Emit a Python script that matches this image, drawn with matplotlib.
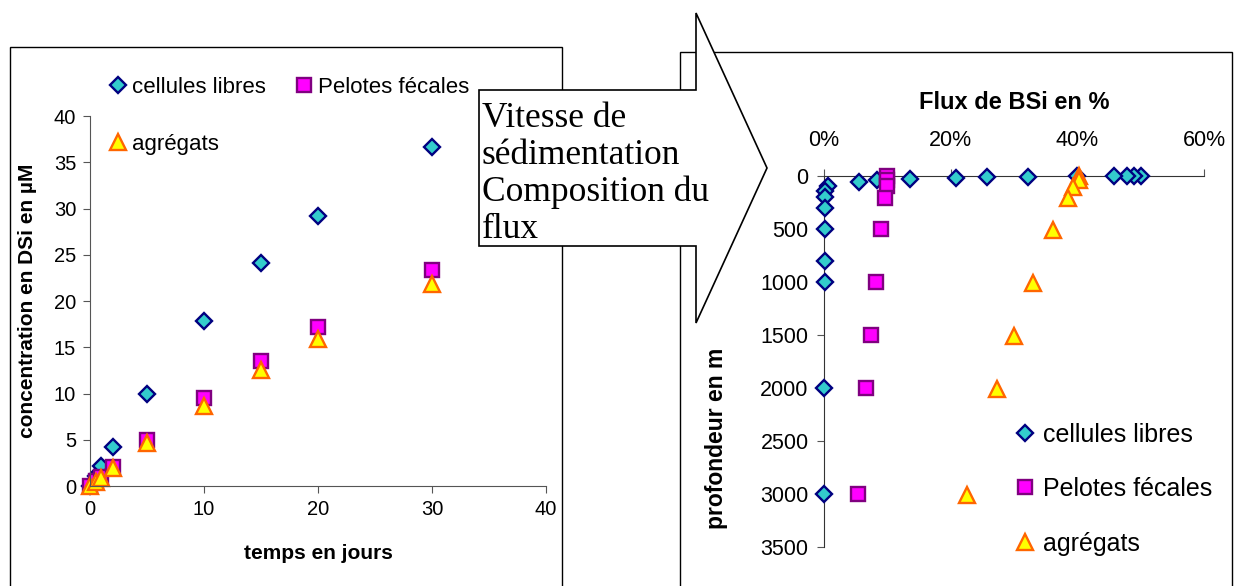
import matplotlib
matplotlib.use("Agg")
import matplotlib.pyplot as plt
from matplotlib.patches import Rectangle, Polygon
from matplotlib.ticker import FuncFormatter

# left chart: dissolution over time
jours = [0, 0.5, 1, 2, 5, 10, 15, 20, 30]
dsi_cellules = [0.0, 1.1, 2.2, 4.25, 9.9, 17.8, 24.1, 29.2, 36.6]
dsi_pelotes = [0.0, 0.5, 1.0, 2.1, 5.0, 9.5, 13.5, 17.15, 23.35]
dsi_agregats = [0.0, 0.4, 0.9, 1.9, 4.6, 8.65, 12.5, 15.9, 21.8]

# right chart: composition of the BSi flux vs depth
flux_cellules = [50.0, 49.0, 47.8, 45.8, 40.0, 32.2, 25.8, 20.8, 13.5, 8.4, 5.6,
                 0.7, 0.1, 0.1, 0.1, 0.1, 0.1, 0.1, 0.0, 0.0]
prof_cellules = [0, 1, 2, 3, 4, 6, 12, 18, 28, 38, 53,
                 90, 140, 200, 300, 500, 800, 1000, 2000, 3000]
flux_pelotes = [10.0, 9.9, 9.9, 9.7, 9.0, 8.2, 7.4, 6.6, 5.3]
prof_pelotes = [0, 40, 95, 205, 500, 1000, 1500, 2000, 3000]
flux_agregats = [40.2, 40.2, 39.3, 38.5, 36.2, 33.0, 30.0, 27.3, 22.5]
prof_agregats = [0, 40, 105, 210, 510, 1005, 1510, 2010, 3010]

labels = ["cellules libres", "Pelotes fécales", "agrégats"]

W, H = 1236, 586


def fx(px):
    return px / W


def fy(py):
    return 1 - py / H


plt.rcParams['font.family'] = ['Liberation Sans', 'DejaVu Sans']

styles = [
    dict(marker='D', markersize=8.5, markerfacecolor='#33CCCC', markeredgecolor='#000080', markeredgewidth=1.7),
    dict(marker='s', markersize=10, markerfacecolor='#FF00FF', markeredgecolor='#800080', markeredgewidth=1.7),
    dict(marker='^', markersize=11, markerfacecolor='#FFFF00', markeredgecolor='#FF6600', markeredgewidth=1.7),
]

fig = plt.figure(figsize=(W / 100, H / 100), dpi=100)

# ---- left chart
ax1 = fig.add_axes([fx(90), fy(486), fx(546) - fx(90), fy(116) - fy(486)])
ax1.set_facecolor('none')
handles = []
for (x, y), lab, st in zip([(jours, dsi_cellules), (jours, dsi_pelotes), (jours, dsi_agregats)], labels, styles):
    h, = ax1.plot(x, y, linestyle='none', label=lab, clip_on=False, **st)
    handles.append(h)
ax1.set_xlim(0, 40)
ax1.set_ylim(0, 40)
ax1.set_xticks(range(0, 41, 10))
ax1.set_yticks(range(0, 41, 5))
for s in ['top', 'right']:
    ax1.spines[s].set_visible(False)
for s in ['left', 'bottom']:
    ax1.spines[s].set_color('#555555')
ax1.tick_params(direction='out', length=5, color='#555555', labelsize=14.5, pad=5)
ax1.set_xlabel("temps en jours", fontsize=15, fontweight='bold', labelpad=18)
ax1.set_ylabel("concentration en DSi en µM", fontsize=15, fontweight='bold')
ax1.yaxis.set_label_coords((fx(37) - fx(90)) / (fx(546) - fx(90)), 0.5)

# legend laid out row by row: cellules, Pelotes / agrégats
fig.legend([handles[0], handles[2], handles[1]], [labels[0], labels[2], labels[1]],
           ncol=2, loc='upper left', bbox_to_anchor=(fx(99), fy(66)), frameon=False,
           fontsize=16, labelspacing=1.6, columnspacing=1.35, handlelength=0.7,
           handletextpad=0.3, borderpad=0)

# ---- right chart
ax2 = fig.add_axes([fx(824), fy(547), fx(1204) - fx(824), fy(176) - fy(547)])
ax2.set_facecolor('none')
rh = []
for (x, y), lab, st in zip([(flux_cellules, prof_cellules), (flux_pelotes, prof_pelotes),
                            (flux_agregats, prof_agregats)], labels, styles):
    h, = ax2.plot(x, y, linestyle='none', label=lab, clip_on=False, zorder=3, **st)
    rh.append(h)
ax2.set_xlim(0, 60)
ax2.set_ylim(3500, 0)
ax2.set_xticks(range(0, 61, 20))
ax2.set_yticks(range(0, 3501, 500))
ax2.xaxis.set_major_formatter(FuncFormatter(lambda v, p: f"{v:.0f}%"))
ax2.xaxis.tick_top()
ax2.xaxis.set_label_position('top')
for s in ['bottom', 'right']:
    ax2.spines[s].set_visible(False)
for s in ['top', 'left']:
    ax2.spines[s].set_color('#333333')
ax2.tick_params(direction='out', length=5, color='#555555', labelsize=15.5, pad=6)
ax2.tick_params(axis='x', pad=13)
ax2.set_xlabel("Flux de BSi en %", fontsize=17, fontweight='bold', labelpad=15)
ax2.set_ylabel("profondeur en m", fontsize=16.5, fontweight='bold')
ax2.yaxis.set_label_coords((fx(728) - fx(824)) / (fx(1204) - fx(824)),
                           (fy(438) - fy(547)) / (fy(176) - fy(547)))
fig.legend(rh, labels, loc='upper left', bbox_to_anchor=(fx(1004), fy(410)), frameon=False,
           fontsize=18, labelspacing=1.22, handlelength=0.7, handletextpad=0.35, borderpad=0)

# ---- frames and arrow
fig.add_artist(Rectangle((fx(10), fy(600)), fx(562) - fx(10), fy(47) - fy(600),
                         transform=fig.transFigure, fill=False, edgecolor='black', linewidth=1, zorder=1))
fig.add_artist(Rectangle((fx(680), fy(600)), fx(1232) - fx(680), fy(52) - fy(600),
                         transform=fig.transFigure, fill=False, edgecolor='black', linewidth=1, zorder=1))
arrow_px = [(479, 90), (696, 90), (696, 13), (767, 168), (696, 323), (696, 246), (479, 246)]
fig.add_artist(Polygon([(fx(a), fy(b)) for a, b in arrow_px], closed=True, transform=fig.transFigure,
                       facecolor='white', edgecolor='black', linewidth=1.2, zorder=2))
fig.text(fx(482), fy(102), "Vitesse de\nsédimentation\nComposition du\nflux",
         family=['Liberation Serif', 'DejaVu Serif'], fontsize=25.5, va='top', ha='left',
         linespacing=1.15, zorder=3)

fig.savefig("out.png", dpi=100)
